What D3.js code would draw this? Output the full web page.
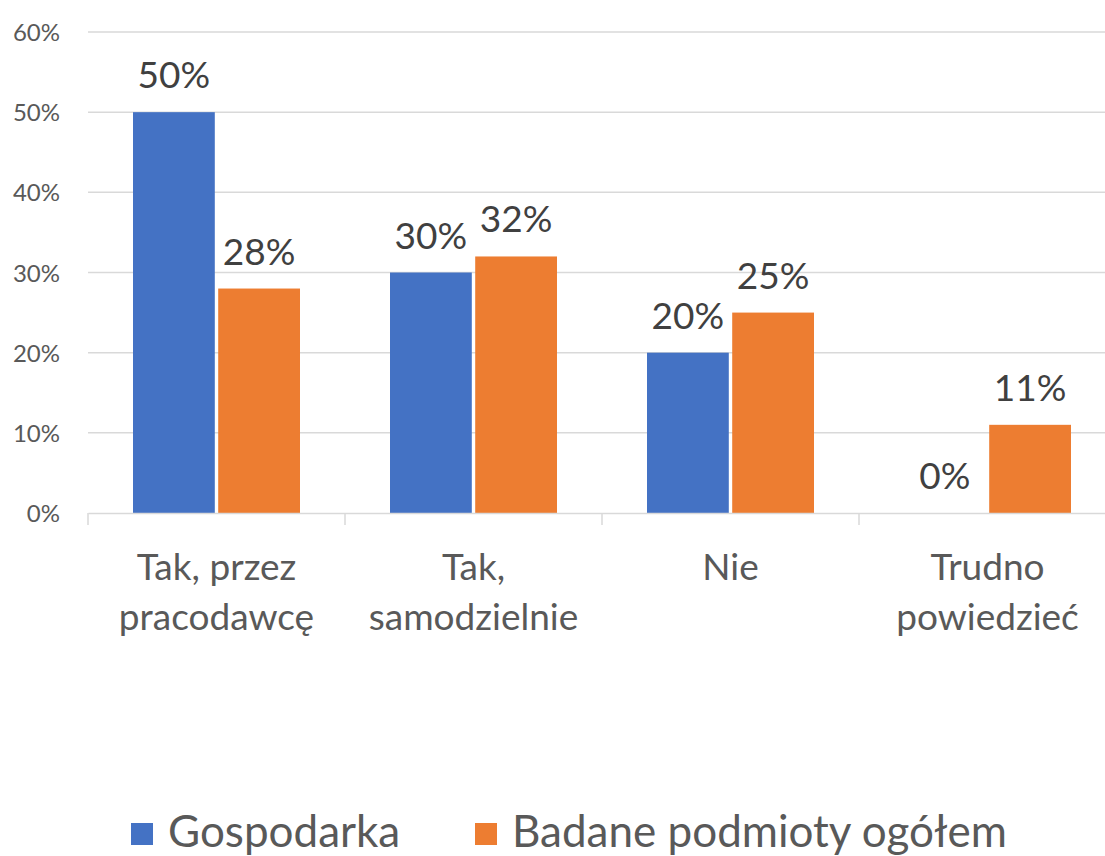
<!DOCTYPE html>
<html>
<head>
<meta charset="utf-8">
<script src="https://cdn.jsdelivr.net/npm/d3@7"></script>
<style>
  body { margin: 0; background: #fff; }
  svg { display: block; font-family: Lato, "Open Sans", sans-serif; }
</style>
</head>
<body>
<svg></svg>
<script>
const categories = [["Tak, przez", "pracodawcę"], ["Tak,", "samodzielnie"], ["Nie"], ["Trudno", "powiedzieć"]];
const seriesNames = ["Gospodarka", "Badane podmioty ogółem"];
const gospodarka = [50, 30, 20, 0];
const ogolem = [28, 32, 25, 11];
const yTicks = [0, 10, 20, 30, 40, 50, 60];
const colors = ["#4472c4", "#ed7d31"];

const width = 1105;
const height = 856;
const plotLeft = 88;
const plotRight = 1116;
const plotTop = 32;
const plotBottom = 513;

let svg = d3.select("svg").attr("width", width).attr("height", height);

const keys = categories.map(c => c.join(" "));
const data = keys.map((k, i) => ({ key: k, values: [gospodarka[i], ogolem[i]] }));

let scX = d3.scaleBand().domain(keys).range([plotLeft, plotRight]).paddingInner(0).paddingOuter(0);
let scY = d3.scaleLinear().domain([0, 60]).range([plotBottom, plotTop]);
let scInner = d3.scaleBand().domain([0, 1]).range([45, scX.bandwidth() - 45]).paddingInner(0.04);

// grid
svg.append("g")
    .selectAll("line")
    .data(yTicks.filter(t => t > 0))
    .enter()
    .append("line")
    .attr("x1", plotLeft).attr("x2", plotRight)
    .attr("y1", d => scY(d)).attr("y2", d => scY(d))
    .attr("stroke", "#d9d9d9").attr("stroke-width", 1.5);

// y labels
svg.append("g")
    .selectAll("text")
    .data(yTicks)
    .enter()
    .append("text")
    .attr("x", 60)
    .attr("y", d => scY(d) + 9)
    .attr("text-anchor", "end")
    .attr("font-size", 24)
    .attr("fill", "#595959")
    .text(d => d + "%");

// bars
let groups = svg.append("g")
    .selectAll("g")
    .data(data)
    .enter()
    .append("g")
    .attr("transform", d => `translate(${scX(d.key)},0)`);

groups.selectAll("rect")
    .data(d => d.values)
    .enter()
    .append("rect")
    .attr("x", (d, i) => scInner(i))
    .attr("y", d => scY(d))
    .attr("width", scInner.bandwidth())
    .attr("height", d => plotBottom - scY(d))
    .attr("fill", (d, i) => colors[i]);

groups.selectAll("text")
    .data(d => d.values)
    .enter()
    .append("text")
    .attr("x", (d, i) => scInner(i) + scInner.bandwidth() / 2)
    .attr("y", d => scY(d) - 24)
    .attr("text-anchor", "middle")
    .attr("font-size", 37)
    .attr("fill", "#404040")
    .text(d => d + "%");

// x axis
let axisX = d3.axisBottom(scX).tickSize(0).tickFormat("");
let gx = svg.append("g").attr("transform", `translate(0,${plotBottom})`).call(axisX);
gx.select(".domain").attr("stroke", "#d9d9d9").attr("stroke-width", 1.5);
svg.append("g")
    .selectAll("line")
    .data(keys)
    .enter()
    .append("line")
    .attr("x1", d => scX(d)).attr("x2", d => scX(d))
    .attr("y1", plotBottom).attr("y2", plotBottom + 12)
    .attr("stroke", "#d9d9d9").attr("stroke-width", 1.5);

// category labels
let cat = svg.append("g")
    .selectAll("text")
    .data(categories)
    .enter()
    .append("text")
    .attr("x", (d, i) => scX(keys[i]) + scX.bandwidth() / 2)
    .attr("y", 580)
    .attr("text-anchor", "middle")
    .attr("font-size", 37)
    .attr("fill", "#595959");
cat.selectAll("tspan")
    .data(d => d)
    .enter()
    .append("tspan")
    .attr("x", function () { return d3.select(this.parentNode).attr("x"); })
    .attr("dy", (d, i) => i === 0 ? 0 : 50)
    .text(d => d);

// legend
const legendX = [131, 475];
let legend = svg.append("g")
    .selectAll("g")
    .data(seriesNames)
    .enter()
    .append("g")
    .attr("transform", (d, i) => `translate(${legendX[i]},823)`);
legend.append("rect")
    .attr("width", 22).attr("height", 22)
    .attr("fill", (d, i) => colors[i]);
legend.append("text")
    .attr("x", 37).attr("y", 24)
    .attr("font-size", 44)
    .attr("fill", "#595959")
    .text(d => d);
</script>
</body>
</html>
